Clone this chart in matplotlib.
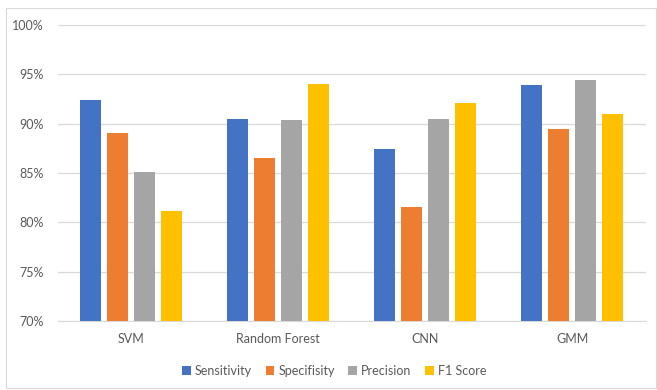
import matplotlib
matplotlib.use("Agg")
import numpy as np
import matplotlib.pyplot as plt
from matplotlib.patches import Rectangle
from matplotlib.ticker import FuncFormatter

models = ["SVM", "Random Forest", "CNN", "GMM"]
metrics = ["Sensitivity", "Specifisity", "Precision", "F1 Score"]
sensitivity = [92.4, 90.5, 87.4, 93.9]
specifisity = [89.05, 86.5, 81.5, 89.5]
precision = [85.07, 90.4, 90.5, 94.4]
f1_score = [81.1, 94.0, 92.1, 91.0]
colors = ["#4472C4", "#ED7D31", "#A5A5A5", "#FFC000"]

plt.rcParams['font.family'] = ['Lato', 'DejaVu Sans']

fig = plt.figure(figsize=(6.57, 3.9), dpi=100)
ax = fig.add_axes([0.088, 0.177, 0.895, 0.759])

# thin frame round the whole chart
fig.patches.append(Rectangle((0.009, 0.005), 0.99, 0.974, transform=fig.transFigure,
                             fill=False, edgecolor="#D9D9D9", lw=0.8))

x = np.arange(len(models))
width = 0.143
step = 0.184
series = [sensitivity, specifisity, precision, f1_score]
for i, (vals, name, c) in enumerate(zip(series, metrics, colors)):
    ax.bar(x + (i - 1.5) * step, vals, width, color=c, label=name, zorder=3)

ax.set_ylim(70, 100)
ax.set_xlim(-0.5, 3.5)
ax.set_yticks(np.arange(70, 101, 5))
ax.yaxis.set_major_formatter(FuncFormatter(lambda v, p: f"{v:.0f}%"))
ax.set_xticks(x)
ax.set_xticklabels(models)
ax.grid(axis="y", color="#D9D9D9", lw=0.9, zorder=0)
for s in ["top", "right", "left"]:
    ax.spines[s].set_visible(False)
ax.spines["bottom"].set_color("#D9D9D9")
ax.tick_params(axis="both", length=0, labelsize=9, colors="#595959")
ax.tick_params(axis="x", pad=9)
ax.tick_params(axis="y", pad=10)

ax.legend(loc="upper center", bbox_to_anchor=(0.47, -0.11), ncol=4, frameon=False,
          fontsize=9, labelcolor="#595959", handlelength=0.7, handleheight=0.7,
          handletextpad=0.3, columnspacing=1.1)

plt.savefig("out.png", dpi=100)
